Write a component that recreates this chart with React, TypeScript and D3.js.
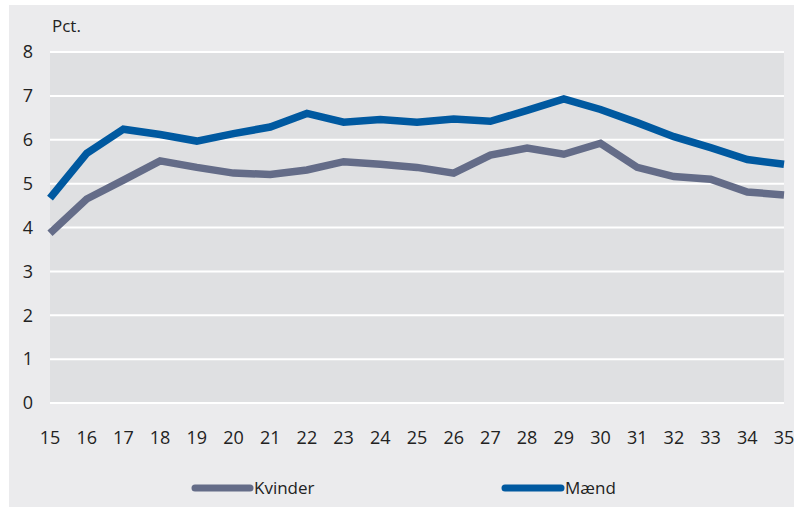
import React from 'react';
import * as d3 from 'd3';

const ages = [15, 16, 17, 18, 19, 20, 21, 22, 23, 24, 25, 26, 27, 28, 29, 30, 31, 32, 33, 34, 35];
const maend = [4.67, 5.69, 6.24, 6.12, 5.97, 6.14, 6.29, 6.6, 6.4, 6.46, 6.4, 6.47, 6.42, 6.67, 6.93, 6.69, 6.39, 6.07, 5.82, 5.55, 5.44];
const kvinder = [3.87, 4.65, 5.08, 5.52, 5.37, 5.24, 5.21, 5.31, 5.5, 5.44, 5.37, 5.24, 5.65, 5.81, 5.67, 5.92, 5.37, 5.16, 5.1, 4.81, 4.74];
const yTicks = [0, 1, 2, 3, 4, 5, 6, 7, 8];

const W = 794;
const H = 509;
const margin = { top: 52, right: 10, bottom: 106, left: 50 };
const font = '"Open Sans", "Noto Sans", sans-serif';
const blue = '#0059a0';
const gray = '#646c88';

const App = () => {
  const x = d3.scaleLinear().domain([15, 35]).range([margin.left, W - margin.right]);
  const y = d3.scaleLinear().domain([0, 8]).range([H - margin.bottom, margin.top]);

  const line = d3
    .line<number>()
    .x((d, i) => x(ages[i]))
    .y((d) => y(d));

  return (
    <svg width={W} height={H} style={{ position: 'absolute', left: 0, top: 0 }}>
      <rect x={9} y={5} width={W - 9} height={H - 7} fill="#ebebed" />
      <rect x={x(15)} y={y(8)} width={x(35) - x(15)} height={y(0) - y(8)} fill="#dfe0e2" />
      {yTicks.map((t) => (
        <line key={t} x1={x(15)} x2={x(35)} y1={y(t)} y2={y(t)} stroke="#fff" strokeWidth={2} />
      ))}
      {yTicks.map((t) => (
        <text key={t} x={28} y={y(t)} dy="0.35em" textAnchor="middle" fontFamily={font} fontSize={18} fill="#222">
          {t}
        </text>
      ))}
      <text x={52} y={32} fontFamily={font} fontSize={17} fill="#222">Pct.</text>
      {ages.map((a) => (
        <text key={a} x={x(a)} y={438} dy="0.35em" textAnchor="middle" fontFamily={font} fontSize={18} fill="#222">
          {a}
        </text>
      ))}
      <path d={line(kvinder) || ''} fill="none" stroke={gray} strokeWidth={7.5} strokeLinejoin="miter" />
      <path d={line(maend) || ''} fill="none" stroke={blue} strokeWidth={7.5} strokeLinejoin="miter" />
      <line x1={195} x2={250} y1={488} y2={488} stroke={gray} strokeWidth={7} strokeLinecap="round" />
      <text x={254} y={488} dy="0.35em" fontFamily={font} fontSize={17} fill="#222">Kvinder</text>
      <line x1={505} x2={561} y1={488} y2={488} stroke={blue} strokeWidth={7} strokeLinecap="round" />
      <text x={565} y={488} dy="0.35em" fontFamily={font} fontSize={17} fill="#222">Mænd</text>
    </svg>
  );
};

export default App;
